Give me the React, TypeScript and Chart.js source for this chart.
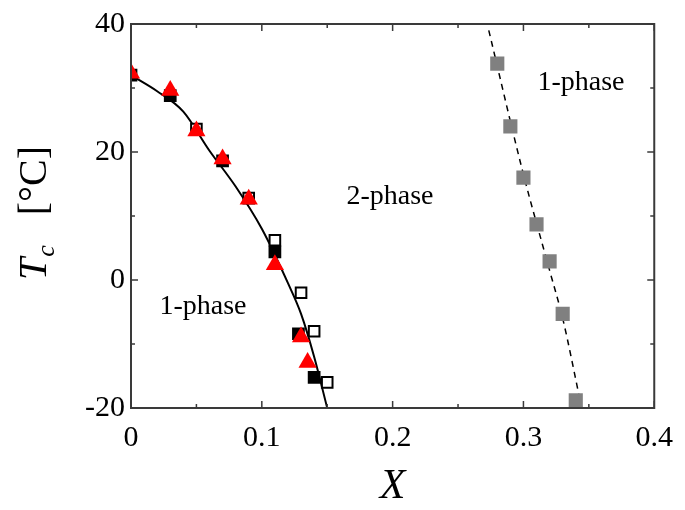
import React, { useEffect, useRef } from "react";
import { Chart, registerables } from "chart.js";

Chart.register(...registerables);

// ---- data ----
const filledSquaresX = [0, 0.03, 0.07, 0.11, 0.128, 0.14];
const filledSquaresT = [32.0, 28.8, 18.6, 4.4, -8.4, -15.2];

const openSquaresX = [0.05, 0.09, 0.11, 0.13, 0.14, 0.15];
const openSquaresT = [23.6, 12.8, 6.2, -2.0, -8.0, -16.0];

const trianglesX = [0, 0.03, 0.05, 0.07, 0.09, 0.11, 0.13, 0.135];
const trianglesT = [32.3, 29.6, 23.3, 18.9, 12.6, 2.4, -8.9, -12.9];

const graySquaresX = [0.28, 0.29, 0.3, 0.31, 0.32, 0.33, 0.34];
const graySquaresT = [33.8, 24.0, 16.0, 8.7, 2.9, -5.3, -18.8];

const fitCurveX = [0, 0.02, 0.04, 0.06, 0.08, 0.1, 0.12, 0.13, 0.14, 0.15];
const fitCurveT = [32, 29.5, 26.3, 20.2, 14.6, 8.0, -0.5, -5.3, -12.0, -20.0];

const dashedLineX = [0.2735, 0.3, 0.32, 0.33, 0.3445];
const dashedLineT = [39, 16.5, 1.5, -6, -20];

const xMajorTicks = [0, 0.1, 0.2, 0.3, 0.4];
const xMinorTicks = [0.05, 0.15, 0.25, 0.35];
const yMajorTicks = [-20, 0, 20, 40];
const yMinorTicks = [-10, 10, 30];

const FONT = "'Liberation Serif', 'DejaVu Serif', serif";

const pts = (xs: number[], ys: number[]) => xs.map((x, i) => ({ x, y: ys[i] }));

const framePlugin = {
  id: "frameAndText",
  afterDraw(chart: any) {
    const { ctx, chartArea } = chart;
    const xs = chart.scales.x;
    const ys = chart.scales.y;
    const { left, right, top, bottom } = chartArea;
    ctx.save();
    ctx.strokeStyle = "#3a3a3a";
    ctx.lineWidth = 2;
    ctx.strokeRect(left, top, right - left, bottom - top);
    ctx.lineWidth = 1.5;
    ctx.beginPath();
    const tick = (vals: number[], len: number) => {
      vals.forEach((v) => {
        const px = xs.getPixelForValue(v);
        ctx.moveTo(px, bottom);
        ctx.lineTo(px, bottom - len);
        ctx.moveTo(px, top);
        ctx.lineTo(px, top + len);
      });
    };
    const tickY = (vals: number[], len: number) => {
      vals.forEach((v) => {
        const py = ys.getPixelForValue(v);
        ctx.moveTo(left, py);
        ctx.lineTo(left + len, py);
        ctx.moveTo(right, py);
        ctx.lineTo(right - len, py);
      });
    };
    tick(xMajorTicks, 7);
    tick(xMinorTicks, 4);
    tickY(yMajorTicks, 7);
    tickY(yMinorTicks, 4);
    ctx.stroke();

    // region labels
    ctx.fillStyle = "#000";
    ctx.textAlign = "center";
    ctx.textBaseline = "middle";
    ctx.font = `28px ${FONT}`;
    ctx.fillText("2-phase", xs.getPixelForValue(0.198), ys.getPixelForValue(13));
    ctx.fillText("1-phase", xs.getPixelForValue(0.055), ys.getPixelForValue(-4.2));
    ctx.fillText("1-phase", xs.getPixelForValue(0.344), ys.getPixelForValue(30.8));

    // x title
    ctx.font = `italic 42px ${FONT}`;
    ctx.fillText("X", (left + right) / 2, 487);

    // y title (rotated)
    ctx.translate(46, 280);
    ctx.rotate(-Math.PI / 2);
    ctx.textAlign = "left";
    ctx.textBaseline = "alphabetic";
    let cx = 0;
    ctx.font = `italic 40px ${FONT}`;
    ctx.fillText("T", cx, 0);
    cx += ctx.measureText("T").width + 1;
    ctx.font = `italic 26px ${FONT}`;
    ctx.fillText("c", cx, 8);
    cx += ctx.measureText("c").width + 30;
    ctx.font = `40px ${FONT}`;
    ctx.fillText("[°C]", cx, 0);
    ctx.restore();
  },
};

export default function App() {
  const ref = useRef<HTMLCanvasElement>(null);
  useEffect(() => {
    if (!ref.current) return;
    const chart = new Chart(ref.current, {
      type: "scatter",
      data: {
        datasets: [
          {
            label: "fit",
            data: pts(fitCurveX, fitCurveT),
            showLine: true,
            borderColor: "#000",
            borderWidth: 2,
            pointRadius: 0,
            cubicInterpolationMode: "monotone",
            order: 5,
          },
          {
            label: "dashed",
            data: pts(dashedLineX, dashedLineT),
            showLine: true,
            borderColor: "#000",
            borderWidth: 1.5,
            borderDash: [6, 5],
            pointRadius: 0,
            cubicInterpolationMode: "monotone",
            order: 5,
          },
          {
            label: "filled",
            data: pts(filledSquaresX, filledSquaresT),
            pointStyle: "rect",
            pointRadius: 9,
            backgroundColor: "#000",
            borderColor: "#000",
            borderWidth: 0,
            order: 3,
          },
          {
            label: "open",
            data: pts(openSquaresX, openSquaresT),
            pointStyle: "rect",
            pointRadius: 7.5,
            backgroundColor: "#fff",
            borderColor: "#000",
            borderWidth: 2,
            order: 2,
          },
          {
            label: "triangles",
            data: pts(trianglesX, trianglesT),
            pointStyle: "triangle",
            pointRadius: 10.5,
            backgroundColor: "#ff0000",
            borderColor: "#ff0000",
            borderWidth: 0,
            order: 1,
          },
          {
            label: "gray",
            data: pts(graySquaresX, graySquaresT),
            pointStyle: "rect",
            pointRadius: 10,
            backgroundColor: "#808080",
            borderColor: "#808080",
            borderWidth: 0,
            order: 1,
          },
        ],
      },
      options: {
        animation: false,
        responsive: false,
        layout: { padding: { top: 21, right: 28, left: 0, bottom: 0 } },
        plugins: { legend: { display: false }, tooltip: { enabled: false } },
        scales: {
          x: {
            type: "linear",
            min: 0,
            max: 0.4,
            afterFit: (s: any) => {
              s.height = 102;
            },
            afterBuildTicks: (s: any) => {
              s.ticks = xMajorTicks.map((v) => ({ value: v }));
            },
            grid: { display: false, drawTicks: false },
            border: { display: false },
            ticks: {
              padding: 12,
              color: "#000",
              font: { family: FONT, size: 30 },
              callback: (v: any) => String(Number(Number(v).toFixed(2))),
            },
          },
          y: {
            type: "linear",
            min: -20,
            max: 40,
            afterFit: (s: any) => {
              s.width = 131;
            },
            afterBuildTicks: (s: any) => {
              s.ticks = yMajorTicks.map((v) => ({ value: v }));
            },
            grid: { display: false, drawTicks: false },
            border: { display: false },
            ticks: {
              padding: 6,
              color: "#000",
              font: { family: FONT, size: 30 },
              callback: (v: any) => String(v),
            },
          },
        },
      },
      plugins: [framePlugin],
    });
    return () => chart.destroy();
  }, []);
  return (
    <canvas
      ref={ref}
      width={685}
      height={510}
      style={{ position: "absolute", left: 0, top: 0, display: "block" }}
    />
  );
}
